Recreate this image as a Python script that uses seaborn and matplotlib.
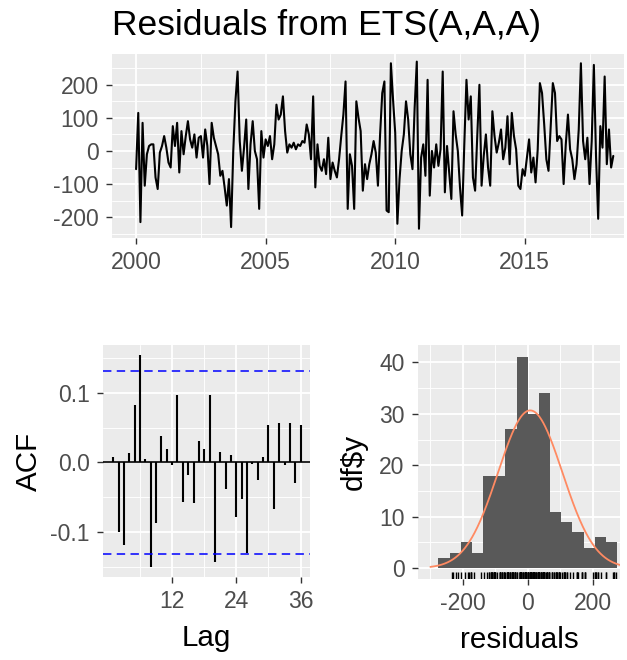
import numpy as np
import pandas as pd
import matplotlib
matplotlib.use("Agg")
import matplotlib.pyplot as plt
import seaborn as sns
from matplotlib.ticker import FixedLocator

# ---------------- data ----------------
res_2000 = [-55, 115, -215, 85, -105, -10, 15, 20, 20, -80, -115, -5]
res_2001 = [15, 45, 10, -35, -50, 75, 15, 85, -65, 60, -10, 45]
res_2002 = [90, 35, 10, 50, -20, 40, 45, -20, 65, 15, -100, 85]
res_2003 = [40, 15, -10, -75, -60, -110, -165, -85, -230, 0, 150, 240]
res_2004 = [30, -60, 10, 95, -115, 20, 90, 0, -25, -175, 60, -20]
res_2005 = [35, 15, 45, -25, 20, 140, 95, 110, 165, 60, -5, 20]
res_2006 = [10, 25, 5, 20, 15, 30, 25, 80, 50, -25, 165, -110]
res_2007 = [20, -45, -60, -25, -70, 40, -85, -35, -60, -80, -25, 45]
res_2008 = [110, 210, -175, -10, -45, -175, 150, 100, 60, -120, -40, -85]
res_2009 = [-40, -10, 30, -5, -105, 50, 175, 210, -180, -185, 265, 155]
res_2010 = [55, -220, -85, 0, 50, 150, 95, -10, -55, 130, 270, -235]
res_2011 = [-20, 20, -75, 215, -135, 0, -50, 20, -45, 5, 240, -125]
res_2012 = [15, -65, -145, 120, 50, 0, -110, -195, 20, 215, 95, 165]
res_2013 = [-80, -120, 45, 200, -105, -15, 50, -50, -105, 120, 45, -5]
res_2014 = [25, 65, -25, 10, 105, -40, 115, 45, 5, -105, -115, -55]
res_2015 = [-75, -20, 35, -65, -20, -95, 5, 205, 175, 80, -25, -60]
res_2016 = [75, 205, 175, 30, 45, 35, -100, 20, 110, 5, -25, -85]
res_2017 = [-40, 65, 265, 30, -25, 40, -100, 30, 260, -15, -205, 75]
res_2018 = [10, 225, -40, 65, -50, -15]

residuals = np.array(res_2000 + res_2001 + res_2002 + res_2003 + res_2004 +
                     res_2005 + res_2006 + res_2007 + res_2008 + res_2009 +
                     res_2010 + res_2011 + res_2012 + res_2013 + res_2014 +
                     res_2015 + res_2016 + res_2017 + res_2018, dtype=float)
start_year = 2000
time = start_year + np.arange(len(residuals)) / 12.0

acf_lags = list(range(1, 37))
acf_values = [0.007, -0.100, -0.119, 0.013, 0.082, 0.154, 0.005, -0.151, -0.087,
              0.038, 0.019, -0.004, 0.097, -0.057, -0.018, -0.058, 0.031, 0.019,
              0.097, -0.144, 0.015, -0.039, 0.010, -0.079, -0.053, -0.130,
              -0.002, -0.026, 0.007, 0.053, -0.067, 0.056, -0.004, 0.056,
              -0.030, 0.053]
conf_limit = 0.1315

hist_left_edge = -275.0
hist_binwidth = 34.3
hist_counts = [2, 3, 5, 3, 18, 18, 27, 41, 30, 34, 11, 9, 7, 4, 6, 5]
normal_mean = 7.0
normal_sd = 99.0

title_text = "Residuals from ETS(A,A,A)"

# ---------------- style ----------------
sns.set_theme(style="darkgrid")
plt.rcParams["font.family"] = ["Liberation Sans", "DejaVu Sans"]

W, H = 627, 660
fig = plt.figure(figsize=(W / 100, H / 100), dpi=100)


def px_axes(l, t, r, b):
    return fig.add_axes([l / W, 1 - b / H, (r - l) / W, (b - t) / H])


ax1 = px_axes(112, 54, 624, 238)
ax2 = px_axes(103.3, 345, 310, 577)
ax3 = px_axes(418, 345, 620, 579)

TICK_FS = 16.5
LAB_FS = 21.3
TITLE_FS = 25.5


def style(ax, xmaj, xmin, ymaj, ymin, xlim, ylim, xlabels=None, ylabels=None):
    ax.set_facecolor("#EBEBEB")
    ax.set_xlim(xlim)
    ax.set_ylim(ylim)
    ax.xaxis.set_major_locator(FixedLocator(xmaj))
    ax.xaxis.set_minor_locator(FixedLocator(xmin))
    ax.yaxis.set_major_locator(FixedLocator(ymaj))
    ax.yaxis.set_minor_locator(FixedLocator(ymin))
    if xlabels is not None:
        ax.set_xticklabels(xlabels)
    if ylabels is not None:
        ax.set_yticklabels(ylabels)
    ax.grid(which="major", color="white", lw=1.3)
    ax.grid(which="minor", color="white", lw=0.65)
    ax.set_axisbelow(True)
    for s in ax.spines.values():
        s.set_visible(False)
    ax.tick_params(which="major", bottom=True, left=True, length=4.3, width=1.0,
                   color="#333333", labelsize=TICK_FS, labelcolor="#4D4D4D", pad=5.3)
    ax.tick_params(which="minor", bottom=False, left=False, length=0)


# ---------------- top: residual time series ----------------
sns.lineplot(x=time, y=residuals, ax=ax1, color="black", lw=1.5)
style(ax1, [2000, 2005, 2010, 2015], [2002.5, 2007.5, 2012.5, 2017.5],
      [-200, -100, 0, 100, 200], [-250, -150, -50, 50, 150, 250],
      (1999.07, 2018.83), (-263, 293),
      ["2000", "2005", "2010", "2015"], ["-200", "-100", "0", "100", "200"])
ax1.set_xlabel("")
ax1.set_ylabel("")
fig.text(112 / W, 1 - 35 / H, title_text, fontsize=TITLE_FS, color="black",
         ha="left", va="baseline")

# ---------------- bottom left: ACF ----------------
ax2.vlines(acf_lags, 0, acf_values, color="black", lw=1.5)
ax2.axhline(0, color="black", lw=1.2)
ax2.axhline(conf_limit, color="#0000FF", lw=1.1, ls=(0, (5.5, 3.5)))
ax2.axhline(-conf_limit, color="#0000FF", lw=1.1, ls=(0, (5.5, 3.5)))
style(ax2, [12, 24, 36], [6, 18, 30], [-0.1, 0.0, 0.1], [-0.15, -0.05, 0.05, 0.15],
      (-0.85, 37.75), (-0.165, 0.1688),
      ["12", "24", "36"], ["-0.1", "0.0", "0.1"])
ax2.set_xlabel("Lag", fontsize=LAB_FS, color="black", va="baseline")
ax2.xaxis.set_label_coords(0.5, (577 - 646) / 232)
ax2.set_ylabel("ACF", fontsize=LAB_FS, color="black", va="baseline")
ax2.yaxis.set_label_coords((37.3 - 103.3) / 206.7, 0.5)

# ---------------- bottom right: histogram ----------------
edges = hist_left_edge + hist_binwidth * np.arange(len(hist_counts) + 1)
centers = (edges[:-1] + edges[1:]) / 2
hist_df = pd.DataFrame({"value": centers, "count": hist_counts})
sns.histplot(data=hist_df, x="value", weights="count", bins=list(edges), ax=ax3,
             color="#595959", alpha=1, linewidth=0)
xs = np.linspace(-300, 290, 400)
ys = len(residuals) * hist_binwidth * np.exp(-0.5 * ((xs - normal_mean) / normal_sd) ** 2) / (
    normal_sd * np.sqrt(2 * np.pi))
ax3.plot(xs, ys, color="#FF8A62", lw=1.3)
sns.rugplot(x=residuals, ax=ax3, height=0.03, color="black", lw=1.5)
style(ax3, [-200, 0, 200], [-300, -100, 100, 300], [0, 10, 20, 30, 40], [5, 15, 25, 35],
      (-338, 283), (-2.1, 43.4),
      ["-200", "0", "200"], ["0", "10", "20", "30", "40"])
ax3.set_xlabel("residuals", fontsize=LAB_FS, color="black", va="baseline")
ax3.xaxis.set_label_coords(0.5, (579 - 648) / 234)
ax3.set_ylabel("df$y", fontsize=LAB_FS, color="black", va="baseline")
ax3.yaxis.set_label_coords((362 - 418) / 202, 0.5)

fig.savefig("out.png", dpi=100, facecolor="white")
